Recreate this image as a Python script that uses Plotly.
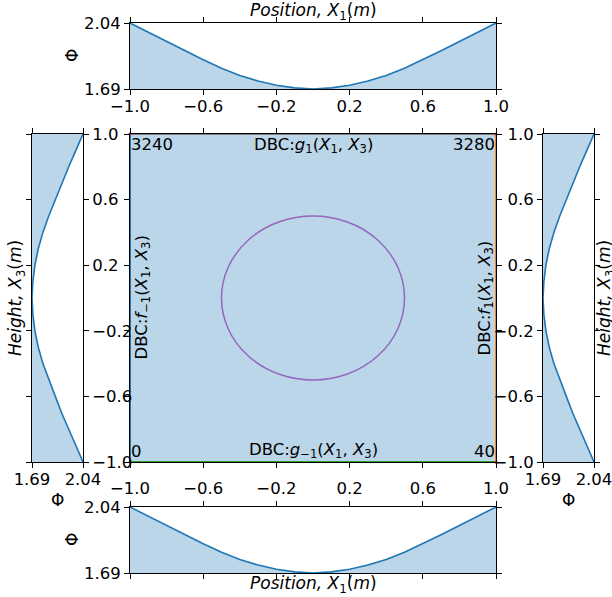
import plotly.graph_objects as go

# ---------------- data ----------------
x1_pos = [-1.0, -0.9, -0.8, -0.7, -0.6, -0.5, -0.4, -0.3, -0.2, -0.1, 0.0,
          0.1, 0.2, 0.3, 0.4, 0.5, 0.6, 0.7, 0.8, 0.9, 1.0]
phi_top = [2.040, 1.991, 1.942, 1.893, 1.845, 1.800, 1.762, 1.732, 1.710, 1.696, 1.690,
           1.696, 1.710, 1.732, 1.762, 1.800, 1.845, 1.893, 1.942, 1.991, 2.040]
phi_bottom = [2.040, 1.991, 1.942, 1.893, 1.845, 1.800, 1.762, 1.732, 1.710, 1.696, 1.690,
              1.696, 1.710, 1.732, 1.762, 1.800, 1.845, 1.893, 1.942, 1.991, 2.040]
x3_pos = [-1.0, -0.9, -0.8, -0.7, -0.6, -0.5, -0.4, -0.3, -0.2, -0.1, 0.0,
          0.1, 0.2, 0.3, 0.4, 0.5, 0.6, 0.7, 0.8, 0.9, 1.0]
phi_left = [2.040, 1.991, 1.942, 1.893, 1.850, 1.805, 1.765, 1.733, 1.710, 1.696, 1.690,
            1.696, 1.710, 1.733, 1.765, 1.805, 1.850, 1.893, 1.942, 1.991, 2.040]
phi_right = [2.040, 1.991, 1.942, 1.893, 1.850, 1.805, 1.765, 1.733, 1.710, 1.696, 1.690,
             1.696, 1.710, 1.733, 1.765, 1.805, 1.850, 1.893, 1.942, 1.991, 2.040]

domain_lim = [-1.0, 1.0]
phi_lim = [1.69, 2.04]
circle_center = [0.0, 0.0]
circle_radius = 0.5

pos_tick_vals = [-1.0, -0.6, -0.2, 0.2, 0.6, 1.0]
pos_tick_text = ["\u22121.0", "\u22120.6", "\u22120.2", "0.2", "0.6", "1.0"]
phi_tick_vals = [1.69, 2.04]
phi_tick_text = ["1.69", "2.04"]

corner_labels = ["0", "40", "3240", "3280"]  # (-1,-1), (1,-1), (-1,1), (1,1)

# ---------------- styling ----------------
C0 = "#1f77b4"
FILL = "rgba(31,119,180,0.3)"
FONT = "DejaVu Sans"
FS = 16.5
W, H = 612, 597


def px_x(a, b):
    return [a / W, b / W]


def px_y(top, bottom):
    return [1 - bottom / H, 1 - top / H]


dom_c_x = px_x(130, 496)
dom_c_y = px_y(134, 462)
dom_top_y = px_y(23, 89)
dom_bot_y = px_y(507, 573)
dom_l_x = px_x(32, 83)
dom_r_x = px_x(543, 594)

fig = go.Figure()

# central square fill
sq_x = [domain_lim[0], domain_lim[1], domain_lim[1], domain_lim[0], domain_lim[0]]
sq_y = [domain_lim[0], domain_lim[0], domain_lim[1], domain_lim[1], domain_lim[0]]
fig.add_trace(go.Scatter(x=sq_x, y=sq_y, fill="toself", fillcolor=FILL,
                         mode="lines", line=dict(width=0), xaxis="x", yaxis="y",
                         hoverinfo="skip"))
# boundary edges
edges = [
    ([domain_lim[0], domain_lim[1]], [domain_lim[1], domain_lim[1]], "#7f7f7f"),  # top
    ([domain_lim[0], domain_lim[1]], [domain_lim[0], domain_lim[0]], "#2ca02c"),  # bottom
    ([domain_lim[1], domain_lim[1]], [domain_lim[0], domain_lim[1]], "#ff7f0e"),  # right
    ([domain_lim[0], domain_lim[0]], [domain_lim[0], domain_lim[1]], C0),         # left
]
for ex, ey, col in edges:
    fig.add_trace(go.Scatter(x=ex, y=ey, mode="lines", line=dict(color=col, width=2),
                             xaxis="x", yaxis="y", hoverinfo="skip"))
# corners
cx = [domain_lim[0], domain_lim[1], domain_lim[0], domain_lim[1]]
cy = [domain_lim[0], domain_lim[0], domain_lim[1], domain_lim[1]]
fig.add_trace(go.Scatter(x=cx, y=cy, mode="markers", marker=dict(color="#d62728", size=3),
                         xaxis="x", yaxis="y", cliponaxis=False, hoverinfo="skip"))

# strips
fig.add_trace(go.Scatter(x=x1_pos, y=phi_top, mode="lines", fill="tozeroy", fillcolor=FILL,
                         line=dict(color=C0, width=1.6), xaxis="x2", yaxis="y2"))
fig.add_trace(go.Scatter(x=x1_pos, y=phi_bottom, mode="lines", fill="tozeroy", fillcolor=FILL,
                         line=dict(color=C0, width=1.6), xaxis="x3", yaxis="y3"))
fig.add_trace(go.Scatter(x=phi_left, y=x3_pos, mode="lines", fill="tozerox", fillcolor=FILL,
                         line=dict(color=C0, width=1.6), xaxis="x4", yaxis="y4"))
fig.add_trace(go.Scatter(x=phi_right, y=x3_pos, mode="lines", fill="tozerox", fillcolor=FILL,
                         line=dict(color=C0, width=1.6), xaxis="x5", yaxis="y5"))

axis_common = dict(showgrid=False, zeroline=False, showline=True, linecolor="black",
                   linewidth=1, mirror="allticks", ticks="outside", ticklen=5,
                   tickwidth=1, tickcolor="black", automargin=False,
                   ticklabeloverflow="allow",
                   tickfont=dict(family=FONT, size=FS, color="black"))

pos_axis = dict(range=domain_lim, tickmode="array", tickvals=pos_tick_vals,
                ticktext=pos_tick_text, **axis_common)
phi_axis = dict(range=phi_lim, tickmode="array", tickvals=phi_tick_vals,
                ticktext=phi_tick_text, **axis_common)

fig.update_layout(
    template="none",
    width=W, height=H, margin=dict(l=0, r=0, t=0, b=0, pad=0, autoexpand=False),
    paper_bgcolor="white", plot_bgcolor="white", showlegend=False,
    font=dict(family=FONT, size=FS, color="black"),
    xaxis=dict(domain=dom_c_x, anchor="y", showticklabels=False, **pos_axis),
    yaxis=dict(domain=dom_c_y, anchor="x", showticklabels=False, **pos_axis),
    xaxis2=dict(domain=dom_c_x, anchor="y2", side="bottom", ticklabelstandoff=-3, **pos_axis),
    yaxis2=dict(domain=dom_top_y, anchor="x2", **phi_axis),
    xaxis3=dict(domain=dom_c_x, anchor="y3", side="top", **pos_axis),
    yaxis3=dict(domain=dom_bot_y, anchor="x3", **phi_axis),
    xaxis4=dict(domain=dom_l_x, anchor="y4", ticklabelstandoff=-3, **phi_axis),
    yaxis4=dict(domain=dom_c_y, anchor="x4", side="right", **pos_axis),
    xaxis5=dict(domain=dom_r_x, anchor="y5", ticklabelstandoff=-3, **phi_axis),
    yaxis5=dict(domain=dom_c_y, anchor="x5", side="left", **pos_axis),
)

# circle
fig.add_shape(type="circle", xref="x", yref="y",
              x0=circle_center[0] - circle_radius, x1=circle_center[0] + circle_radius,
              y0=circle_center[1] - circle_radius, y1=circle_center[1] + circle_radius,
              line=dict(color="#9467bd", width=1.5))

ann_font = dict(family=FONT, size=FS, color="black")
big_font = dict(family=FONT, size=17, color="black")
pos_title = "<i>Position,</i> <i>X</i><sub>1</sub>(<i>m</i>)"
height_title = "<i>Height,</i> <i>X</i><sub>3</sub>(<i>m</i>)"

anns = [
    dict(x=domain_lim[0], y=domain_lim[0], text=corner_labels[0], xanchor="left", yanchor="bottom"),
    dict(x=domain_lim[1], y=domain_lim[0], text=corner_labels[1], xanchor="right", yanchor="bottom"),
    dict(x=domain_lim[0], y=domain_lim[1], text=corner_labels[2], xanchor="left", yanchor="top"),
    dict(x=domain_lim[1], y=domain_lim[1], text=corner_labels[3], xanchor="right", yanchor="top"),
    dict(x=0, y=domain_lim[1], text="DBC:<i>g</i><sub>1</sub>(<i>X</i><sub>1</sub>, <i>X</i><sub>3</sub>)",
         xanchor="center", yanchor="top"),
    dict(x=0, y=domain_lim[0], text="DBC:<i>g</i><sub>\u22121</sub>(<i>X</i><sub>1</sub>, <i>X</i><sub>3</sub>)",
         xanchor="center", yanchor="bottom"),
    dict(x=domain_lim[0], y=0, text="DBC:<i>f</i><sub>\u22121</sub>(<i>X</i><sub>1</sub>, <i>X</i><sub>3</sub>)",
         xanchor="left", yanchor="middle", textangle=-90),
    dict(x=domain_lim[1], y=0, text="DBC:<i>f</i><sub>1</sub>(<i>X</i><sub>1</sub>, <i>X</i><sub>3</sub>)",
         xanchor="right", yanchor="middle", textangle=-90),
]
for a in anns:
    a.update(xref="x", yref="y", showarrow=False, font=ann_font, borderpad=0)
    fig.add_annotation(**a)

paper_anns = [
    dict(x=313 / W, y=1 - 12 / H, text=pos_title),
    dict(x=313 / W, y=1 - 584 / H, text=pos_title),
    dict(x=72 / W, y=1 - 56 / H, text="\u03a6", textangle=-90),
    dict(x=72 / W, y=1 - 540 / H, text="\u03a6", textangle=-90),
    dict(x=57 / W, y=1 - 500 / H, text="\u03a6"),
    dict(x=568 / W, y=1 - 500 / H, text="\u03a6"),
    dict(x=16 / W, y=1 - 298 / H, text=height_title, textangle=-90),
    dict(x=605 / W, y=1 - 298 / H, text=height_title, textangle=-90),
]
for a in paper_anns:
    a.update(xref="paper", yref="paper", showarrow=False, font=big_font,
             xanchor="center", yanchor="middle", borderpad=0)
    fig.add_annotation(**a)

fig.write_html("out.html")
